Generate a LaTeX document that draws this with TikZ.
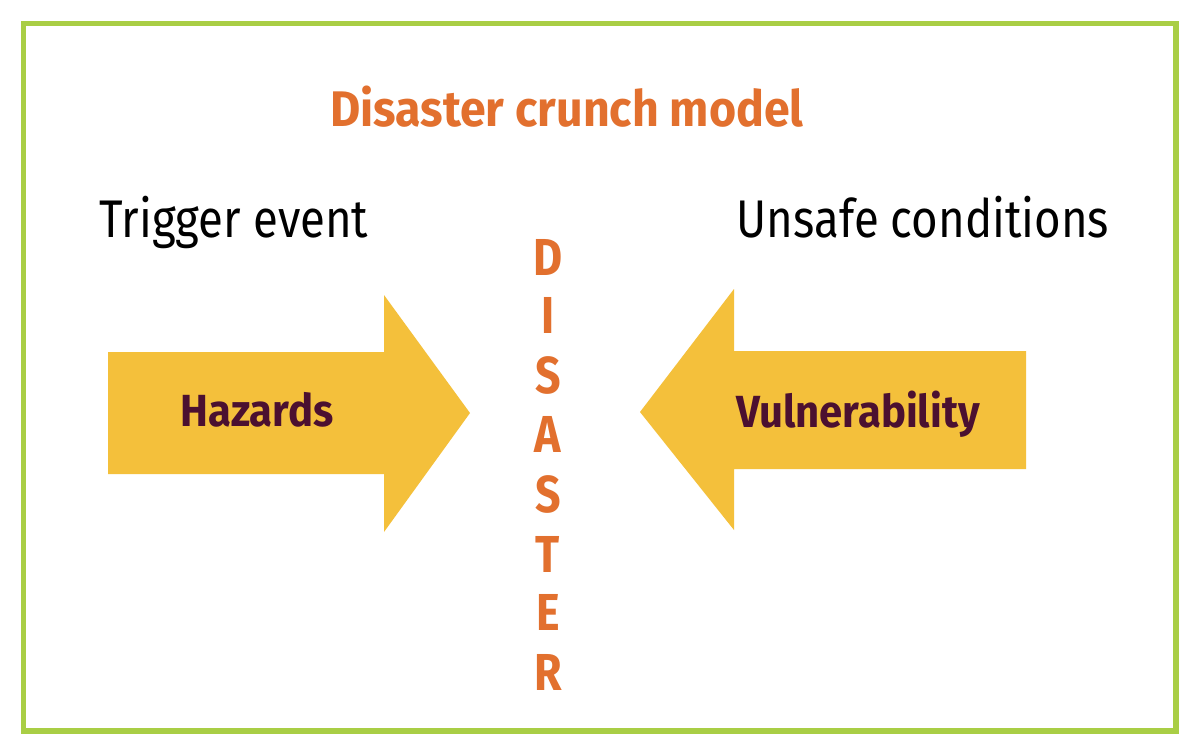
\documentclass[tikz,border=0pt]{standalone}
\usepackage{fontspec}
\setmainfont{Fira Sans}[FakeStretch=0.86]
\newfontfamily\widebold{Fira Sans}[FakeStretch=0.93]
\definecolor{framegreen}{HTML}{A9CE45}
\definecolor{titleorange}{HTML}{E2702E}
\definecolor{arrowyellow}{HTML}{F4C03B}
\definecolor{labelmaroon}{HTML}{4B1030}
\tikzset{
  txt/.style={inner sep=0pt, anchor=base},
  bigarrow/.style={fill=arrowyellow, draw=none},
  letter/.style={inner sep=0pt, anchor=base, text=titleorange, font=\fontsize{52}{52}\selectfont\bfseries},
}
\begin{document}
\begin{tikzpicture}[x=1pt,y=-1pt]
\useasboundingbox (0,0) rectangle (1200,753);
\fill[white] (0,0) rectangle (1200,753);
\draw[framegreen, line width=5.5pt] (23.5,23.5) rectangle (1176,731);
% arrows
\fill[bigarrow] (108,352) -- (384,352) -- (384,295) -- (470,413) -- (384,532) -- (384,474) -- (108,474) -- cycle;
\fill[bigarrow] (1026,351) -- (734,351) -- (734,289) -- (640,412) -- (734,530) -- (734,469) -- (1026,469) -- cycle;
% texts
\node[txt, text=titleorange, font=\fontsize{50}{50}\selectfont\widebold\bfseries] (title) at (567,126) {Disaster crunch model};
\node[txt, font=\fontsize{53}{53}\selectfont] (trig) at (234,237) {Trigger event};
\node[txt, font=\fontsize{53}{53}\selectfont] (unsafe) at (923,237) {Unsafe conditions};
\node[txt, text=labelmaroon, font=\fontsize{45}{45}\selectfont\widebold\bfseries] (haz) at (257,426) {Hazards};
\node[txt, text=labelmaroon, font=\fontsize{45}{45}\selectfont\widebold\bfseries] (vul) at (858,427) {Vulnerability};
\node[letter] (l1) at (548,275) {D};
\node[letter] (l2) at (548,333) {I};
\node[letter] (l3) at (548,393) {S};
\node[letter] (l4) at (548,452) {A};
\node[letter] (l5) at (548,512) {S};
\node[letter] (l6) at (548,572) {T};
\node[letter] (l7) at (548,630) {E};
\node[letter] (l8) at (548,690) {R};
\end{tikzpicture}
\end{document}
